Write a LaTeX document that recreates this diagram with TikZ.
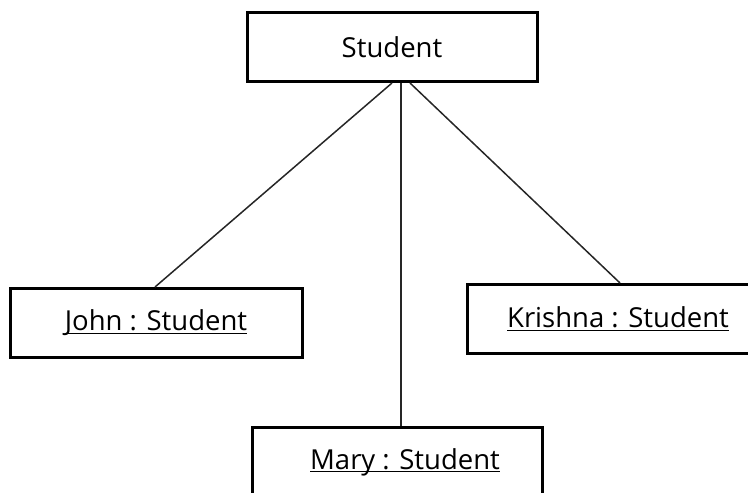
\documentclass[tikz,border=0pt]{standalone}
\usepackage{fontspec}
\setmainfont{Open Sans}
% object name underlined just below the baseline
\newcommand{\objname}[1]{\setbox0\hbox{#1}\rlap{\rule[-3pt]{\wd0}{1.1pt}}\box0}
\begin{document}
\begin{tikzpicture}[x=1pt,y=-1pt,
  objbox/.style={draw=black, line width=3pt, fill=white, minimum width=290pt,
    minimum height=69pt, inner sep=0pt, font=\fontsize{27.5}{32}\selectfont},
  link/.style={draw=black!85, line width=1.5pt}]
\useasboundingbox (0,0) rectangle (748,493);
% class box
\node[objbox] (cls) at (392,47) {Student};
% instance boxes
\node[objbox, minimum width=292pt] (john) at (156,323) {\objname{John : Student}};
\node[objbox] (krishna) at (612,319) {\hspace*{12pt}\objname{Krishna : Student}};
\node[objbox] (mary) at (397,462) {\hspace*{16pt}\objname{Mary : Student}};
% links from the class to each instance
\draw[link] ([xshift=0pt]cls.south) -- ([xshift=-1pt]john.north);
\draw[link] ([xshift=9pt]cls.south) -- ([xshift=4pt]mary.north);
\draw[link] ([xshift=18pt]cls.south) -- ([xshift=8pt]krishna.north);
\end{tikzpicture}
\end{document}
